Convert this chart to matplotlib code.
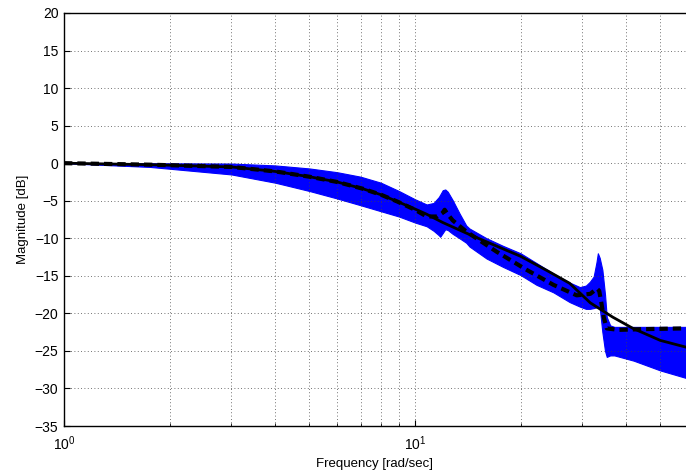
"""
Bode magnitude: family of perturbed plant responses (blue band),
nominal model (black dashed) and reduced fit (black solid).
"""

import matplotlib
matplotlib.use("Agg")
import matplotlib.pyplot as plt
import numpy as np

plt.rcParams["font.family"] = ["Liberation Sans", "DejaVu Sans"]
plt.rcParams["mathtext.fontset"] = "custom"
plt.rcParams["mathtext.rm"] = "Liberation Sans"

# ---------------------------------------------------------------------------
# Data (frequency in rad/sec, magnitude in dB)
# ---------------------------------------------------------------------------

# envelope of the perturbed responses
band_w = [1, 1.76, 3, 4, 5, 6, 7, 8, 9, 10, 10.8, 11.3, 11.7, 11.8, 12.0,
          12.2, 12.4, 12.8, 13.4, 14.0, 14.3, 16.0, 17.8, 20, 22.2, 24.8,
          27.6, 29.5, 30.7, 31.5, 32.3, 32.9, 33.2, 33.6, 34.2, 34.8, 35.2,
          36, 37, 42, 50, 59.2]
band_upper = [0, 0, -0.05, -0.3, -0.7, -1.2, -1.8, -2.6, -3.7, -4.8, -5.5,
              -5.3, -4.5, -4.2, -3.6, -3.5, -3.8, -4.9, -6.7, -8.3, -8.7,
              -10.0, -11.0, -12.0, -13.3, -14.7, -15.9, -16.5, -16.3, -15.8,
              -15.1, -13.2, -12.0, -12.6, -14.2, -17.5, -20.5, -21.6, -21.8,
              -21.8, -21.8, -21.8]
band_lower = [0, -0.5, -1.5, -2.6, -3.7, -4.7, -5.6, -6.4, -7.1, -7.9, -8.4,
              -9.0, -9.6, -9.8, -9.3, -8.8, -8.9, -9.4, -10.0, -10.6, -11.1,
              -12.7, -13.8, -14.9, -16.2, -17.2, -18.5, -19.1, -19.4, -19.4,
              -19.3, -19.2, -19.1, -19.2, -22.5, -25.0, -25.8, -25.6, -25.6,
              -26.3, -27.6, -28.6]

# nominal model (dashed)
nominal_w = [1, 1.76, 3, 4, 5, 6, 7.1, 8, 8.9, 10, 10.8, 11.6, 12.0, 12.15,
             12.4, 12.8, 14.0, 17.1, 20.8, 24.8, 28.9, 31.6, 33.0, 33.5, 34.0,
             34.5, 35.2, 38, 45, 59.2]
nominal_db = [0, -0.2, -0.5, -1.1, -1.8, -2.5, -3.4, -4.2, -5.1, -6.2, -7.1,
              -7.1, -6.6, -6.2, -6.8, -7.6, -9.1, -11.8, -14.2, -16.2, -17.6,
              -17.4, -16.7, -17.0, -18.7, -20.5, -22.0, -22.2, -22.1, -22.0]

# reduced-order fit (solid)
fit_w = [1, 1.76, 3, 4, 5, 6, 7.1, 8, 8.9, 10, 10.8, 12, 14.3, 17, 20, 24,
         27.6, 31.6, 36.6, 41.8, 50, 59.2]
fit_db = [0, -0.2, -0.5, -1.1, -1.8, -2.5, -3.4, -4.2, -5.1, -6.1, -6.8,
          -7.9, -9.5, -11.0, -12.4, -14.4, -16.0, -18.6, -20.5, -22.0, -23.6,
          -24.5]

# ---------------------------------------------------------------------------
# Figure
# ---------------------------------------------------------------------------

fig = plt.figure(figsize=(6.86, 4.73), dpi=100)
ax = fig.add_axes([64 / 686, 1 - 426 / 473, 1 - 64 / 686, (426 - 13) / 473])

ax.fill_between(band_w, band_lower, band_upper, color="#0000ff", lw=0.8,
                edgecolor="#0000ff")
ax.plot(nominal_w, nominal_db, color="black", lw=3.0, ls=(0, (2.0, 1.2)))
ax.plot(fit_w, fit_db, color="black", lw=2.0)

ax.set_xscale("log")
ax.set_xlim(1, 59.2)
ax.set_ylim(-35, 20)
ax.set_yticks(np.arange(-35, 21, 5))

ax.grid(True, which="major", ls=(0, (1, 3)), color="#444444", lw=0.6)
ax.grid(True, which="minor", axis="x", ls=(0, (1, 3)), color="#444444", lw=0.6)

ax.tick_params(which="both", direction="in", labelsize=10, top=False,
               right=False)
ax.tick_params(which="major", length=4, pad=4)
ax.tick_params(axis="x", which="major", pad=6)
ax.tick_params(which="minor", length=2)
ax.spines["right"].set_visible(False)
for s in ("left", "bottom", "top"):
    ax.spines[s].set_linewidth(1.0)

ax.set_xlabel("Frequency [rad/sec]", fontsize=9.5, labelpad=4)
ax.set_ylabel("Magnitude [dB]", fontsize=9.5, labelpad=4)

fig.savefig("out.png", dpi=100)
